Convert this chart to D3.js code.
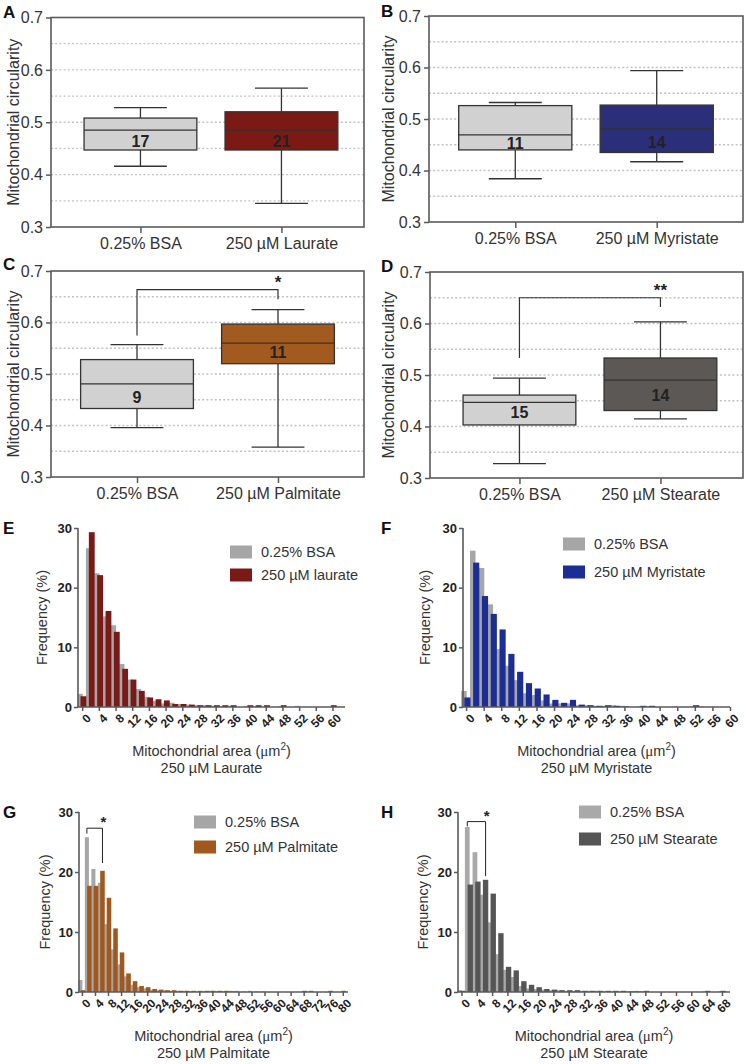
<!DOCTYPE html>
<html><head><meta charset="utf-8">
<script src="https://cdn.jsdelivr.net/npm/d3@7/dist/d3.min.js"></script>
<style>
body{margin:0;background:#fff}
svg{display:block}
text{font-family:"Liberation Sans",Arial,Helvetica,sans-serif}
</style>
</head><body>
<svg id="c" width="745" height="1064"></svg>
<script>
// ---------- DATA ----------
const circTicks = [0.3, 0.4, 0.5, 0.6, 0.7];
const circGrid = [0.35, 0.4, 0.45, 0.5, 0.55, 0.6, 0.65];

// box stats: [min, q1, median, q3, max]
const catsA = ["0.25% BSA", "250 µM Laurate"];
const statsA = [[0.416, 0.447, 0.485, 0.508, 0.528], [0.345, 0.447, 0.485, 0.520, 0.565]];
const nA = [17, 21];
const nPosA = [0.463, 0.463];

const catsB = ["0.25% BSA", "250 µM Myristate"];
const statsB = [[0.384, 0.440, 0.469, 0.526, 0.532], [0.417, 0.435, 0.481, 0.527, 0.594]];
const nB = [11, 14];
const nPosB = [0.453, 0.455];

const catsC = ["0.25% BSA", "250 µM Palmitate"];
const statsC = [[0.396, 0.433, 0.481, 0.528, 0.557], [0.358, 0.520, 0.560, 0.597, 0.625]];
const nC = [9, 11];
const nPosC = [0.455, 0.542];
const sigC = {left: 0.575, top: 0.664, right: 0.645, label: "*"};

const catsD = ["0.25% BSA", "250 µM Stearate"];
const statsD = [[0.328, 0.403, 0.447, 0.461, 0.494], [0.415, 0.431, 0.490, 0.533, 0.603]];
const nD = [15, 14];
const nPosD = [0.427, 0.461];
const sigD = {left: 0.533, top: 0.650, right: 0.632, label: "**"};

// histograms (bin start, % frequency)
const binsE = [0,2,4,6,8,10,12,14,16,18,20,22,24,26,28,30,32,34,36,38,40,42,44,46,48,50,52,54,56,58,60,62];
const bsaE  = [2.2,26.6,22.4,15.2,13.7,7.2,4.6,3.0,1.7,1.0,0.6,0.7,0.5,0.4,0.3,0.3,0.2,0.1,0.2,0,0.1,0.1,0,0,0.1,0,0.2,0,0,0,0,0];
const fatE  = [1.8,29.3,22.1,16.1,12.6,6.4,4.6,2.7,1.6,1.3,1.1,0.5,0.5,0.4,0.3,0.3,0.3,0.3,0.3,0,0.3,0.3,0.3,0,0.3,0,0,0,0,0,0.3,0];
const xTicksE = [0,4,8,12,16,20,24,28,32,36,40,44,48,52,56,60];

const binsF = [0,2,4,6,8,10,12,14,16,18,20,22,24,26,28,30,32,34,36,38,40,42,44,46,48,50,52,54,56,58];
const bsaF  = [2.7,26.2,23.3,17.2,9.7,6.9,4.5,2.3,2.0,1.1,0.6,0.6,0.6,0.3,0.3,0.2,0.2,0.3,0.2,0,0.1,0.1,0,0,0.1,0,0.1,0.1,0,0];
const fatF  = [1.6,24.2,18.6,15.6,13.0,8.9,5.9,4.0,3.1,2.1,1.2,0.7,1.2,0.4,0.3,0.2,0.3,0.2,0.1,0,0.2,0.2,0,0,0,0,0.3,0,0,0];
const xTicksF = [0,4,8,12,16,20,24,28,32,36,40,44,48,52,56,60];

const binsG = [0,2,4,6,8,10,12,14,16,18,20,22,24,26,28,30,32,34,36,38,40,42,44,46,48,50,52,54,56,58,60,62,64,66,68,70,72,74,76,78,80];
const bsaG  = [2.0,25.8,20.5,18.2,11.3,7.1,4.6,2.6,1.2,0.8,0.6,0.4,0.3,0.3,0.2,0.2,0.2,0.1,0.1,0.1,0.2,0.1,0.1,0.2,0.2,0.1,0.2,0.1,0.1,0,0,0,0,0,0,0,0,0,0,0,0];
const fatG  = [0.3,17.7,17.7,20.2,15.7,10.6,6.6,3.1,1.8,1.0,0.8,0.5,0.4,0.3,0.3,0.2,0.2,0.2,0.2,0.2,0.2,0.2,0.2,0.1,0,0,0,0,0,0,0,0,0,0,0.2,0.2,0,0,0.2,0,0.2];
const xTicksG = [0,4,8,12,16,20,24,28,32,36,40,44,48,52,56,60,64,68,72,76,80];
const sigG = {from: 2, to: 6, left: 26.4, top: 27.3, right: 21.5, label: "*"};

const binsH = [0,2,4,6,8,10,12,14,16,18,20,22,24,26,28,30,32,34,36,38,40,42,44,46,48,50,52,54,56,58,60,62,64,66,68];
const bsaH  = [0.3,27.5,23.3,16.2,11.6,6.3,3.7,2.5,1.0,0.6,0.5,0.4,0.3,0.3,0.2,0.2,0.2,0.2,0.2,0.1,0.1,0.1,0.1,0.2,0.1,0,0,0,0,0,0,0,0.1,0,0.1];
const fatH  = [0.2,17.9,18.4,18.7,16.4,9.8,4.2,3.6,1.8,1.2,0.8,0.5,0.4,0.3,0.3,0.3,0.2,0.2,0.2,0.2,0.2,0.2,0.1,0.1,0.2,0,0,0,0,0,0,0,0.2,0,0.2];
const xTicksH = [0,4,8,12,16,20,24,28,32,36,40,44,48,52,56,60,64,68];
const sigH = {from: 2, to: 6, left: 27.6, top: 28.4, right: 19.3, label: "*"};

const freqTicks = [0, 10, 20, 30];

// ---------- DRAW ----------
const svg = d3.select("#c");
const FRAME = "#5a5a5a", DARK = "#333";

function boxPanel(o) {
  const g = svg.append("g");
  const y = d3.scaleLinear().domain([0.3, 0.7]).range([o.bottom, o.top]);
  const x = d3.scalePoint().domain(o.cats).range([o.left, o.right]).padding(0.61).align(o.align);
  const step = x.step();
  const bw = step * 0.8, cw = step * 0.375;
  g.selectAll(".grid").data(circGrid).join("line")
    .attr("x1", o.left).attr("x2", o.right)
    .attr("y1", d => y(d)).attr("y2", d => y(d))
    .attr("stroke", "#c2c2c2").attr("stroke-width", 1.3).attr("stroke-dasharray", "2,2.2");
  g.append("rect").attr("x", o.left).attr("y", o.top).attr("width", o.right - o.left).attr("height", o.bottom - o.top)
    .attr("fill", "none").attr("stroke", FRAME).attr("stroke-width", 1.6);
  const ya = g.append("g").attr("transform", `translate(${o.left},0)`)
    .call(d3.axisLeft(y).tickValues(circTicks).tickFormat(d3.format(".1f")).tickSize(5).tickPadding(3));
  ya.select(".domain").remove();
  ya.selectAll("line").attr("stroke", FRAME).attr("stroke-width", 1.5);
  ya.selectAll("text").attr("font-size", 16).attr("fill", "#333").attr("font-family", '"Liberation Sans",Arial,sans-serif');
  const xa = g.append("g").attr("transform", `translate(0,${o.bottom})`)
    .call(d3.axisBottom(x).tickSize(6).tickPadding(5));
  xa.select(".domain").remove();
  xa.selectAll("line").attr("stroke", FRAME).attr("stroke-width", 1.5);
  xa.selectAll("text").attr("font-size", 16).attr("fill", "#333").attr("font-family", '"Liberation Sans",Arial,sans-serif');
  g.append("text").attr("transform", `translate(${o.titleX},${(o.top + o.bottom) / 2}) rotate(-90)`)
    .attr("text-anchor", "middle").attr("dy", "0.35em").attr("font-size", 16).attr("fill", "#333")
    .text("Mitochondrial circularity");
  g.append("text").attr("x", o.letterX).attr("y", o.letterY).attr("font-size", 17).attr("font-weight", "bold")
    .attr("fill", "#111").text(o.letter);
  o.stats.forEach((s, i) => {
    const cx = x(o.cats[i]);
    const bg = g.append("g");
    bg.append("line").attr("x1", cx).attr("x2", cx).attr("y1", y(s[0])).attr("y2", y(s[1])).attr("stroke", DARK).attr("stroke-width", 1.3);
    bg.append("line").attr("x1", cx).attr("x2", cx).attr("y1", y(s[3])).attr("y2", y(s[4])).attr("stroke", DARK).attr("stroke-width", 1.3);
    [s[0], s[4]].forEach(v => bg.append("line").attr("x1", cx - cw / 2).attr("x2", cx + cw / 2).attr("y1", y(v)).attr("y2", y(v)).attr("stroke", DARK).attr("stroke-width", 1.3));
    bg.append("rect").attr("x", cx - bw / 2).attr("y", y(s[3])).attr("width", bw).attr("height", y(s[1]) - y(s[3]))
      .attr("fill", o.colors[i]).attr("stroke", DARK).attr("stroke-width", 1.3);
    bg.append("line").attr("x1", cx - bw / 2).attr("x2", cx + bw / 2).attr("y1", y(s[2])).attr("y2", y(s[2])).attr("stroke", DARK).attr("stroke-width", 1.3);
    bg.append("text").attr("x", cx).attr("y", y(o.nPos[i])).attr("dy", "0.36em").attr("text-anchor", "middle")
      .attr("font-size", 16).attr("font-weight", "bold").attr("fill", "#222").text(o.n[i]);
  });
  if (o.sig) {
    const x1 = x(o.cats[0]), x2 = x(o.cats[1]);
    g.append("path").attr("d", `M${x1},${y(o.sig.left)}V${y(o.sig.top)}H${x2}V${y(o.sig.right)}`)
      .attr("fill", "none").attr("stroke", DARK).attr("stroke-width", 1.2);
    g.append("text").attr("x", x2).attr("y", y(o.sig.top) - 2).attr("text-anchor", "middle")
      .attr("font-size", 17).attr("font-weight", "bold").attr("fill", "#222").text(o.sig.label);
  }
}

function histPanel(o) {
  const g = svg.append("g");
  const x = d3.scaleLinear().domain(o.xDomain).range([o.left, o.right]);
  const y = d3.scaleLinear().domain([0, 30]).range([o.bottom, o.top]);
  const bw = x(2) - x(0);
  const grayX = b => x(b) - 0.55 * bw, colX = b => x(b) - 0.2 * bw;
  g.selectAll(".g").data(o.bins).join("rect")
    .attr("x", d => grayX(d)).attr("width", 0.62 * bw)
    .attr("y", (d, i) => y(o.bsa[i])).attr("height", (d, i) => y(0) - y(o.bsa[i]))
    .attr("fill", o.grayColor);
  g.selectAll(".f").data(o.bins).join("rect")
    .attr("x", d => colX(d)).attr("width", 0.7 * bw)
    .attr("y", (d, i) => y(o.fat[i])).attr("height", (d, i) => y(0) - y(o.fat[i]))
    .attr("fill", o.color);
  const ya = g.append("g").attr("transform", `translate(${o.left},0)`)
    .call(d3.axisLeft(y).tickValues(freqTicks).tickSize(4).tickPadding(2));
  ya.select(".domain").attr("stroke", FRAME).attr("stroke-width", 1.6).attr("d", `M0,${y(0)}V${y(30)}`);
  ya.selectAll("line").attr("stroke", FRAME).attr("stroke-width", 1.5);
  ya.selectAll("text").attr("font-size", 13).attr("font-weight", "bold").attr("fill", "#222").attr("font-family", '"Liberation Sans",Arial,sans-serif');
  const xa = g.append("g").attr("transform", `translate(0,${o.bottom})`)
    .call(d3.axisBottom(x).tickValues(o.xTicks).tickSize(4));
  xa.select(".domain").attr("stroke", FRAME).attr("stroke-width", 1.6).attr("d", `M${o.left},0H${o.right}`);
  xa.selectAll("line").attr("stroke", FRAME).attr("stroke-width", 1.5);
  xa.selectAll("text").attr("font-size", 12).attr("font-weight", "bold").attr("fill", "#222")
    .attr("font-family", '"Liberation Sans",Arial,sans-serif')
    .attr("text-anchor", "end").attr("transform", "translate(3,6) rotate(-45)").attr("x", 0).attr("y", 0).attr("dy", "0.7em");
  g.append("text").attr("transform", `translate(${o.titleX},${(o.top + o.bottom) / 2}) rotate(-90)`)
    .attr("text-anchor", "middle").attr("dy", "0.35em").attr("font-size", 14.5).attr("fill", "#333").text("Frequency (%)");
  const cx = (o.left + o.right) / 2;
  const t = g.append("text").attr("x", cx).attr("y", o.bottom + 49).attr("text-anchor", "middle").attr("font-size", 14.5).attr("fill", "#333");
  t.append("tspan").text("Mitochondrial area (");
  t.append("tspan").attr("font-family", '"Liberation Serif","Times New Roman",serif').attr("font-size", 15).text("μ");
  t.append("tspan").text("m");
  t.append("tspan").attr("dy", -6).attr("font-size", 10).text("2");
  t.append("tspan").attr("dy", 6).text(")");
  g.append("text").attr("x", cx).attr("y", o.bottom + 66).attr("text-anchor", "middle").attr("font-size", 14.5).attr("fill", "#333").text(o.subtitle);
  g.append("text").attr("x", o.letterX).attr("y", o.letterY).attr("font-size", 17).attr("font-weight", "bold").attr("fill", "#111").text(o.letter);
  [[o.grayColor, "0.25% BSA"], [o.color, o.legendLabel]].forEach((d, i) => {
    const ly = o.legY + i * o.legGap;
    g.append("rect").attr("x", o.legX).attr("y", ly - 6.5).attr("width", 22).attr("height", 13).attr("fill", d[0]);
    g.append("text").attr("x", o.legX + 31).attr("y", ly).attr("dy", "0.35em").attr("font-size", 14.5).attr("fill", "#333").text(d[1]);
  });
  if (o.sig) {
    const x1 = grayX(o.sig.from) + 0.31 * bw, x2 = colX(o.sig.to) + 0.35 * bw;
    g.append("path").attr("d", `M${x1},${y(o.sig.left)}V${y(o.sig.top)}H${x2}V${y(o.sig.right)}`)
      .attr("fill", "none").attr("stroke", "#222").attr("stroke-width", 1);
    g.append("text").attr("x", x2 + 1).attr("y", y(o.sig.top) - 1).attr("text-anchor", "middle")
      .attr("font-size", 15).attr("font-weight", "bold").attr("fill", "#222").text(o.sig.label);
  }
}

const BSA_BOX = "#d1d1d1";
boxPanel({letter: "A", letterX: 3, letterY: 18, titleX: 13, left: 51, right: 364, top: 17.5, bottom: 227, align: 0.52,
  cats: catsA, stats: statsA, n: nA, nPos: nPosA, colors: [BSA_BOX, "#7b1a14"]});
boxPanel({letter: "B", letterX: 381, letterY: 17, titleX: 388, left: 429, right: 743, top: 16, bottom: 222, align: 0.5,
  cats: catsB, stats: statsB, n: nB, nPos: nPosB, colors: [BSA_BOX, "#2b2f7a"]});
boxPanel({letter: "C", letterX: 3, letterY: 270, titleX: 13, left: 51, right: 364, top: 271, bottom: 477, align: 0.5,
  cats: catsC, stats: statsC, n: nC, nPos: nPosC, colors: [BSA_BOX, "#a35a1f"], sig: sigC});
boxPanel({letter: "D", letterX: 381, letterY: 272, titleX: 388, left: 430, right: 743, top: 272, bottom: 478, align: 0.52,
  cats: catsD, stats: statsD, n: nD, nPos: nPosD, colors: [BSA_BOX, "#5b5856"], sig: sigD});

histPanel({letter: "E", letterX: 3, letterY: 534, titleX: 42, left: 78, right: 345, top: 528, bottom: 707, xDomain: [-1, 63],
  bins: binsE, bsa: bsaE, fat: fatE, xTicks: xTicksE, grayColor: "#a6a6a6", color: "#7a1a17",
  legendLabel: "250 µM laurate", legX: 230, legY: 552, legGap: 23, subtitle: "250 µM Laurate"});
histPanel({letter: "F", letterX: 381, letterY: 534, titleX: 425, left: 463, right: 730, top: 528, bottom: 707, xDomain: [-0.7, 60],
  bins: binsF, bsa: bsaF, fat: fatF, xTicks: xTicksF, grayColor: "#a6a6a6", color: "#1d2d96",
  legendLabel: "250 µM Myristate", legX: 563, legY: 544, legGap: 28, subtitle: "250 µM Myristate"});
histPanel({letter: "G", letterX: 3, letterY: 818, titleX: 45, left: 79, right: 348, top: 812, bottom: 992, xDomain: [-0.9, 81.6],
  bins: binsG, bsa: bsaG, fat: fatG, xTicks: xTicksG, grayColor: "#a6a6a6", color: "#a0581f",
  legendLabel: "250 µM Palmitate", legX: 194, legY: 822, legGap: 25, subtitle: "250 µM Palmitate", sig: sigG});
histPanel({letter: "H", letterX: 381, letterY: 818, titleX: 423, left: 458, right: 730, top: 812, bottom: 992, xDomain: [-0.9, 70.1],
  bins: binsH, bsa: bsaH, fat: fatH, xTicks: xTicksH, grayColor: "#a9a9a9", color: "#555555",
  legendLabel: "250 µM Stearate", legX: 579, legY: 812, legGap: 27, subtitle: "250 µM Stearate", sig: sigH});
</script>
</body></html>
